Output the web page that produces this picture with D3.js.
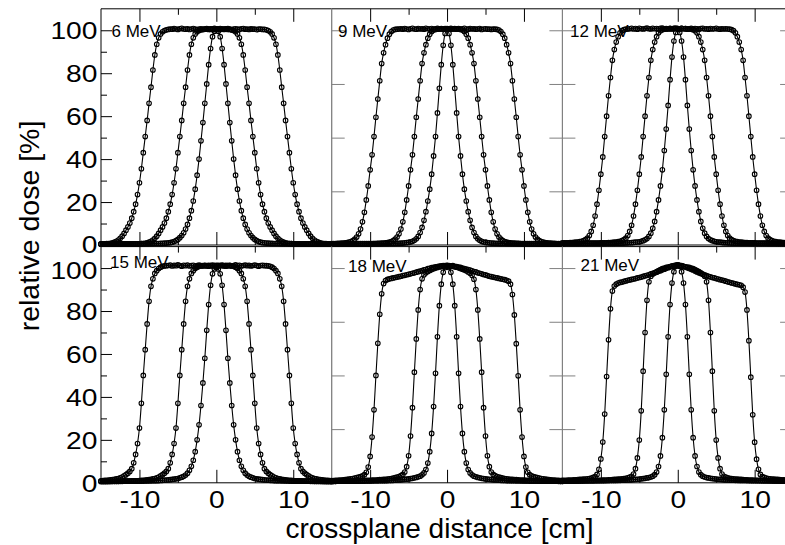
<!DOCTYPE html>
<html><head><meta charset="utf-8">
<script src="https://cdn.jsdelivr.net/npm/d3@7"></script>
<style>
body{margin:0;background:#fff}
svg{display:block}
text{font-family:"Liberation Sans",Arial,Helvetica,sans-serif;fill:#000}
</style>
</head><body>
<svg id="c" width="785" height="545"></svg>
<script>
// ---------- DATA ----------
const xGrid = [-15,-14.75,-14.5,-14.25,-14,-13.75,-13.5,-13.25,-13,-12.75,-12.5,-12.25,-12,-11.75,-11.5,-11.25,-11,-10.75,-10.5,-10.25,-10,-9.75,-9.5,-9.25,-9,-8.75,-8.5,-8.25,-8,-7.75,-7.5,-7.25,-7,-6.75,-6.5,-6.25,-6,-5.75,-5.5,-5.25,-5,-4.75,-4.5,-4.25,-4,-3.75,-3.5,-3.25,-3,-2.75,-2.5,-2.25,-2,-1.75,-1.5,-1.25,-1,-0.75,-0.5,-0.25,0,0.25,0.5,0.75,1,1.25,1.5,1.75,2,2.25,2.5,2.75,3,3.25,3.5,3.75,4,4.25,4.5,4.75,5,5.25,5.5,5.75,6,6.25,6.5,6.75,7,7.25,7.5,7.75,8,8.25,8.5,8.75,9,9.25,9.5,9.75,10,10.25,10.5,10.75,11,11.25,11.5,11.75,12,12.25,12.5,12.75,13,13.25,13.5,13.75,14,14.25,14.5,14.75,15];

const energyLabels = ["6 MeV","9 MeV","12 MeV","15 MeV","18 MeV","21 MeV"];
const yTicksLabelled = [0,20,40,60,80,100];
const yTicksMinor = [10,30,50,70,90];
const yTicksInner = [0,25,50,75,100];
const xTicksMajor = [-10,0,10];
const xTicksMinor = [-5,5];

const e6_large = [0.5,0.5,0.55,0.6,0.7,0.8,1.0,1.3,1.7,2.3,3.1,4.1,5.4,6.9,8.4,10.2,12.5,15.5,19,23.5,29,35.5,43,50.5,58,66,73.5,81.5,88.5,93.5,96.5,98.3,99.3,99.9,100.2,100.4,
100.6,100.5,100.8,100.6,100.4,100.7,100.9,100.6,100.5,100.7,100.4,100.6,100.8,100.5,100.3,100.6,100.7,100.4,100.5,100.8,100.6,100.4,100.7,100.9,100.6,
100.5,100.8,100.6,100.4,100.6,100.8,100.5,100.3,100.6,100.7,100.5,100.4,100.7,100.8,100.5,100.6,100.4,100.7,100.5,100.6,100.3,100.5,100.6,100.4,
100.4,100.2,99.9,99.3,98.3,96.5,93.5,88.5,81.5,73.5,66,58,50.5,43,35.5,29,23.5,19,15.5,12.5,10.2,8.4,6.9,5.4,4.1,3.1,2.3,1.7,1.3,1.0,0.8,0.7,0.6,0.55,0.5,0.5];
const e6_medium = [0.4,0.4,0.4,0.4,0.4,0.4,0.45,0.45,0.45,0.45,0.45,0.5,0.5,0.5,0.5,0.5,0.5,0.5,0.5,
0.5,0.55,0.6,0.7,0.8,1.0,1.3,1.7,2.3,3.1,4.1,5.4,6.9,8.4,10.2,12.5,15.5,19,23.5,29,35.5,43,50.5,58,66,73.5,81.5,88.5,93.5,96.5,98.3,99.3,99.9,100.2,100.4,
100.5,100.6,100.4,100.7,100.5,100.6,100.7,100.5,100.4,100.6,100.5,100.7,100.4,
100.4,100.2,99.9,99.3,98.3,96.5,93.5,88.5,81.5,73.5,66,58,50.5,43,35.5,29,23.5,19,15.5,12.5,10.2,8.4,6.9,5.4,4.1,3.1,2.3,1.7,1.3,1.0,0.8,0.7,0.6,0.55,0.5,
0.5,0.5,0.5,0.5,0.5,0.5,0.5,0.5,0.45,0.45,0.45,0.45,0.45,0.4,0.4,0.4,0.4,0.4,0.4];
const e6_small = [0.45,0.45,0.45,0.45,0.5,0.5,0.5,0.5,0.5,0.5,0.5,0.5,0.5,0.5,0.55,0.55,0.55,0.55,0.55,0.55,
0.55,0.6,0.6,0.6,0.6,0.6,0.65,0.65,0.7,0.7,0.7,0.75,
0.8,0.85,0.9,1.0,1.1,1.3,1.6,2.0,2.6,3.4,4.4,5.7,7.4,9.6,12.5,16,20.5,26,32.5,40,48.5,57,66,75,84,91.5,97,99.5,
100.3,
99.5,97,91.5,84,75,66,57,48.5,40,32.5,26,20.5,16,12.5,9.6,7.4,5.7,4.4,3.4,2.6,2.0,1.6,1.3,1.1,1.0,0.9,0.85,0.8,
0.75,0.7,0.7,0.7,0.65,0.65,0.6,0.6,0.6,0.6,0.6,0.55,
0.55,0.55,0.55,0.55,0.55,0.55,0.5,0.5,0.5,0.5,0.5,0.5,0.5,0.5,0.5,0.5,0.45,0.45,0.45,0.45];

const e9_large = [0.65,0.7,0.7,0.75,0.8,0.85,0.9,1.0,1.1,1.3,1.6,2.0,2.7,3.7,5.2,7.4,10.8,15.2,21,27.5,35,42,50.5,59.5,68,76.5,84.5,89.5,93.3,96.3,98.2,99.4,100.1,100.4,100.5,
100.6,100.7,100.5,100.8,100.6,100.4,100.7,100.9,100.6,100.5,100.8,100.6,100.7,100.5,100.9,100.7,100.6,100.8,100.5,100.7,100.9,100.6,100.8,100.7,100.5,
100.8,100.6,100.9,100.7,100.6,100.5,100.8,100.6,100.7,100.9,100.6,100.5,100.8,100.6,100.7,100.5,100.6,100.8,100.4,100.6,100.7,100.5,100.6,100.4,100.5,
100.5,100.4,100.1,99.4,98.2,96.3,93.3,89.5,84.5,76.5,68,59.5,50.5,42,35,27.5,21,15.2,10.8,7.4,5.2,3.7,2.7,2.0,1.6,1.3,1.1,1.0,0.9,0.85,0.8,0.75,0.7,0.7,0.65,0.6];
const e9_medium = [0.45,0.45,0.45,0.5,0.5,0.5,0.5,0.5,0.5,0.55,0.55,0.55,0.55,0.55,0.6,0.6,0.6,0.6,0.6,0.6,
0.6,0.65,0.7,0.7,0.75,0.8,0.85,0.9,1.0,1.1,1.3,1.6,2.0,2.7,3.7,5.2,7.4,10.8,15.2,21,27.5,35,42,50.5,59.5,68,76.5,84.5,89.5,93.3,96.3,98.2,99.4,100.1,100.4,100.5,
100.6,100.7,100.5,100.8,100.6,100.7,100.5,100.6,100.8,100.6,
100.5,100.4,100.1,99.4,98.2,96.3,93.3,89.5,84.5,76.5,68,59.5,50.5,42,35,27.5,21,15.2,10.8,7.4,5.2,3.7,2.7,2.0,1.6,1.3,1.1,1.0,0.9,0.85,0.8,0.75,0.7,0.7,0.65,0.6,
0.6,0.6,0.6,0.6,0.6,0.55,0.55,0.55,0.55,0.55,0.5,0.5,0.5,0.5,0.5,0.5,0.45,0.45,0.45];
const e9_small = [0.45,0.45,0.45,0.45,0.5,0.5,0.5,0.5,0.5,0.5,0.5,0.5,0.5,0.5,0.55,0.55,0.55,0.55,0.55,0.55,
0.55,0.55,0.6,0.6,0.6,0.6,0.6,0.65,0.65,0.65,0.7,0.7,
0.7,0.75,0.8,0.8,0.85,0.9,1.0,1.1,1.2,1.4,1.7,2.2,2.9,4.0,5.8,8.2,11.5,15.5,20.5,26,33,41.5,50.5,61.5,73,84,93,98.5,
100.5,
98.5,93,84,73,61.5,50.5,41.5,33,26,20.5,15.5,11.5,8.2,5.8,4.0,2.9,2.2,1.7,1.4,1.2,1.1,1.0,0.9,0.85,0.8,0.8,0.75,0.7,
0.7,0.7,0.65,0.65,0.65,0.6,0.6,0.6,0.6,0.6,0.55,0.55,
0.55,0.55,0.55,0.55,0.55,0.55,0.5,0.5,0.5,0.5,0.5,0.5,0.5,0.5,0.5,0.5,0.45,0.45,0.45,0.45];

const e12_large = [0.95,1.0,1.0,1.05,1.1,1.15,1.2,1.3,1.4,1.55,1.7,2.0,2.5,3.2,4.4,6.3,9.2,13.5,19,25.5,33,41,50.5,60,69.5,78,86,91,94.5,97,98.8,99.8,100.3,100.5,100.6,
100.7,100.9,100.6,100.8,100.5,100.9,100.7,100.6,100.8,101.0,100.7,100.6,100.9,100.7,100.8,100.6,100.9,101.0,100.7,100.8,100.6,100.9,100.7,100.8,101.0,
100.8,100.6,100.9,100.7,100.8,100.5,100.7,100.9,100.6,100.8,100.7,100.5,100.8,100.9,100.6,100.7,100.5,100.8,100.6,100.7,100.9,100.6,100.5,100.7,100.6,100.7,
100.6,100.5,100.3,99.8,98.8,97,94.5,91,86,78,69.5,60,50.5,41,33,25.5,19,13.5,9.2,6.3,4.4,3.2,2.5,2.0,1.7,1.55,1.4,1.3,1.2,1.15,1.1,1.05,1.0,1.0,0.95];
const e12_medium = [0.7,0.7,0.7,0.7,0.7,0.75,0.75,0.75,0.75,0.8,0.8,0.8,0.8,0.8,0.85,0.85,0.85,0.85,0.9,
0.9,0.95,1.0,1.0,1.05,1.1,1.15,1.2,1.3,1.4,1.55,1.7,2.0,2.5,3.2,4.4,6.3,9.2,13.5,19,25.5,33,41,50.5,60,69.5,78,86,91,94.5,97,98.8,99.8,100.3,100.5,100.6,
100.7,100.8,100.6,100.9,100.7,100.8,100.6,100.9,100.7,100.8,100.6,
100.6,100.5,100.3,99.8,98.8,97,94.5,91,86,78,69.5,60,50.5,41,33,25.5,19,13.5,9.2,6.3,4.4,3.2,2.5,2.0,1.7,1.55,1.4,1.3,1.2,1.15,1.1,1.05,1.0,1.0,0.95,0.9,
0.9,0.85,0.85,0.85,0.85,0.8,0.8,0.8,0.8,0.8,0.75,0.75,0.75,0.75,0.7,0.7,0.7,0.7,0.7];
const e12_small = [0.7,0.7,0.7,0.7,0.7,0.7,0.7,0.7,0.7,0.7,0.7,0.7,0.75,0.75,0.75,0.75,0.75,0.75,0.75,0.75,
0.75,0.75,0.75,0.8,0.8,0.8,0.8,0.8,0.85,0.85,0.85,0.9,
0.9,0.95,1.0,1.05,1.1,1.2,1.3,1.4,1.5,1.7,2.0,2.4,3.0,4.0,5.5,7.8,11,15.5,21,27.5,35,44,54,65,77,87.5,95,99,
100.5,
99,95,87.5,77,65,54,44,35,27.5,21,15.5,11,7.8,5.5,4.0,3.0,2.4,2.0,1.7,1.5,1.4,1.3,1.2,1.1,1.05,1.0,0.95,0.9,
0.9,0.85,0.85,0.85,0.8,0.8,0.8,0.8,0.8,0.75,0.75,0.75,
0.75,0.75,0.75,0.75,0.75,0.75,0.75,0.75,0.7,0.7,0.7,0.7,0.7,0.7,0.7,0.7,0.7,0.7,0.7,0.7];

const e15_large = [0.95,1.0,1.1,1.15,1.25,1.35,1.5,1.65,1.8,2.0,2.3,2.7,3.2,3.8,4.5,5.3,6.6,9.3,13.2,18.3,25.5,37,50,62,74,84.5,91.5,95,97.5,98.8,99.8,100.4,100.8,101.0,101.1,
101.2,101.4,101.0,101.3,101.1,101.5,101.2,100.9,101.3,101.1,101.4,101.0,101.2,101.3,100.9,101.1,101.4,101.2,101.0,101.3,101.1,100.9,101.2,101.0,101.1,
101.3,101.0,101.2,101.4,101.1,100.9,101.2,101.3,101.0,101.2,101.5,101.1,101.3,101.0,101.2,101.4,101.1,101.3,101.0,101.2,101.4,101.1,100.9,101.2,101.3,101.1,
101.1,101.0,100.8,100.4,99.8,98.8,97.5,95,91.5,84.5,74,62,50,37,25.5,18.3,13.2,9.3,6.6,5.3,4.5,3.8,3.2,2.7,2.3,2.0,1.8,1.65,1.5,1.35,1.25,1.15,1.1,1.0,0.95];
const e15_medium = [0.6,0.6,0.6,0.65,0.65,0.65,0.7,0.7,0.7,0.7,0.75,0.75,0.75,0.8,0.8,0.8,0.85,0.85,0.9,
0.95,1.0,1.1,1.15,1.25,1.35,1.5,1.65,1.8,2.0,2.3,2.7,3.2,3.8,4.5,5.3,6.6,9.3,13.2,18.3,25.5,37,50,62,74,84.5,91.5,95,97.5,98.8,99.8,100.4,100.8,101.0,101.1,
101.2,101.0,101.3,101.1,101.4,101.2,101.0,101.3,101.1,101.2,101.0,101.3,101.1,
101.1,101.0,100.8,100.4,99.8,98.8,97.5,95,91.5,84.5,74,62,50,37,25.5,18.3,13.2,9.3,6.6,5.3,4.5,3.8,3.2,2.7,2.3,2.0,1.8,1.65,1.5,1.35,1.25,1.15,1.1,1.0,0.95,
0.9,0.85,0.85,0.8,0.8,0.8,0.75,0.75,0.75,0.7,0.7,0.7,0.7,0.65,0.65,0.65,0.6,0.6,0.6];
const e15_small = [0.65,0.65,0.65,0.65,0.7,0.7,0.7,0.7,0.7,0.7,0.7,0.7,0.75,0.75,0.75,0.75,0.75,0.75,0.75,0.8,
0.8,0.8,0.8,0.85,0.85,0.9,0.9,0.95,0.95,1.0,1.05,1.1,
1.15,1.2,1.3,1.35,1.45,1.55,1.7,1.85,2.0,2.3,2.6,3.0,3.6,4.5,5.8,7.7,10.5,14.5,20,27,36,46.5,58,71,83,92,97.3,99.6,
100.3,
99.6,97.3,92,83,71,58,46.5,36,27,20,14.5,10.5,7.7,5.8,4.5,3.6,3.0,2.6,2.3,2.0,1.85,1.7,1.55,1.45,1.35,1.3,1.2,1.15,
1.1,1.05,1.0,0.95,0.95,0.9,0.9,0.85,0.85,0.8,0.8,0.8,
0.8,0.75,0.75,0.75,0.75,0.75,0.75,0.75,0.7,0.7,0.7,0.7,0.7,0.7,0.7,0.7,0.65,0.65,0.65,0.65];

const e18_large = [1.0,1.05,1.1,1.15,1.2,1.3,1.4,1.5,1.6,1.7,1.85,2.0,2.2,2.4,2.6,2.85,3.2,3.8,4.9,7.3,12.3,21.3,34,50,65,78.5,88,92.8,94.2,94.7,95.0,95.2,95.4,95.6,95.8,96.0,
96.2,96.5,96.6,96.9,97.1,97.3,97.6,97.8,98.1,98.3,98.6,98.8,99.2,99.3,99.7,99.9,100.2,100.3,100.6,100.7,100.9,101.0,101.2,101.1,101.3,
101.2,101.0,101.1,100.8,100.7,100.4,100.3,100.0,99.8,99.5,99.3,99.0,98.7,98.4,98.2,97.8,97.6,97.3,97.0,96.8,96.5,96.2,96.0,95.8,
95.6,95.4,95.2,95.0,94.8,94.6,94.3,93.9,92.5,87.7,78.2,64.8,49.8,34,21.3,12.3,7.3,4.9,3.8,3.2,2.85,2.6,2.4,2.2,2.0,1.85,1.7,1.6,1.5,1.4,1.3,1.2,1.15,1.1,1.05,1.0];
const e18_medium = [0.7,0.7,0.7,0.72,0.75,0.77,0.8,0.82,0.85,0.87,0.9,0.92,0.95,0.97,1.0,1.02,1.05,1.08,1.1,1.12,
1.15,1.2,1.25,1.3,1.35,1.45,1.5,1.55,1.65,1.75,1.85,2.0,2.2,2.4,2.6,2.9,3.3,3.9,5.0,7.5,12.6,21.8,35,51.5,67,80.5,90,95,96.9,97.8,98.4,98.9,99.3,99.7,100.0,100.3,
100.5,100.7,100.8,101.0,101.1,101.0,100.9,100.8,100.6,100.4,
100.1,99.8,99.5,99.1,98.7,98.2,97.6,96.7,94.8,90,80.5,67,51.5,35,21.8,12.6,7.5,5.0,3.9,3.3,2.9,2.6,2.4,2.2,2.0,1.85,1.75,1.65,1.55,1.5,1.45,1.35,1.3,1.25,1.2,1.15,
1.12,1.1,1.08,1.05,1.02,1.0,0.97,0.95,0.92,0.9,0.87,0.85,0.82,0.8,0.77,0.75,0.72,0.7,0.7];
const e18_small = [0.7,0.7,0.7,0.72,0.72,0.74,0.74,0.75,0.75,0.76,0.77,0.78,0.78,0.79,0.8,0.8,0.81,0.82,0.83,0.84,
0.85,0.85,0.9,0.9,0.9,0.95,0.95,1.0,1.0,1.05,1.1,1.1,
1.15,1.2,1.3,1.35,1.4,1.5,1.6,1.7,1.8,1.95,2.1,2.3,2.5,2.8,3.1,3.7,4.6,6.2,9.2,14.5,23,35.5,51,68,82.5,92.5,98,100.3,
101,
100.3,98,92.5,82.5,68,51,35.5,23,14.5,9.2,6.2,4.6,3.7,3.1,2.8,2.5,2.3,2.1,1.95,1.8,1.7,1.6,1.5,1.4,1.35,1.3,1.2,1.15,
1.1,1.1,1.05,1.0,1.0,0.95,0.95,0.9,0.9,0.9,0.85,0.85,
0.84,0.83,0.82,0.81,0.8,0.8,0.79,0.78,0.78,0.77,0.76,0.75,0.75,0.74,0.74,0.72,0.72,0.7,0.7,0.7];

const e21_large = [1.1,1.13,1.16,1.2,1.25,1.3,1.34,1.39,1.48,1.57,1.62,1.67,1.76,1.85,2.0,2.2,2.5,2.9,3.9,6.3,11.1,19,32,49.5,66.6,81,89.3,91.6,92.5,
93.0,93.3,93.5,93.8,94.0,94.3,94.5,94.7,94.9,95.1,95.4,95.6,95.8,96.1,96.4,96.6,96.9,97.3,97.5,97.8,98.1,98.5,98.8,99.2,99.5,99.9,100.2,100.6,100.9,101.2,101.4,
101.5,
101.3,101.1,100.8,100.5,100.1,99.8,99.4,99.1,98.6,98.2,97.8,97.5,97.1,96.8,96.5,96.2,95.9,95.6,95.4,95.1,94.9,94.6,94.4,94.2,93.9,93.6,93.4,93.1,92.9,
92.6,92.4,92.2,92.0,91.1,88.8,80.5,66.2,49.2,31.7,18.9,11.0,6.3,3.9,2.9,2.5,2.2,2.0,1.85,1.76,1.67,1.62,1.57,1.48,1.39,1.34,1.3,1.25,1.2,1.16,1.13];
const e21_medium = [0.8,0.8,0.82,0.84,0.86,0.88,0.9,0.92,0.94,0.96,0.98,1.0,1.02,1.04,1.06,1.08,1.1,1.12,1.14,
1.16,1.18,1.21,1.26,1.31,1.36,1.41,1.46,1.55,1.65,1.7,1.75,1.84,1.94,2.13,2.33,2.6,3.0,4.1,6.6,11.6,19.9,33.5,52,70,85,93.6,96.2,97.2,97.8,98.3,98.8,99.3,99.7,100.0,100.3,
100.5,100.7,100.9,101.0,101.1,101.2,101.1,101.0,100.8,100.6,100.4,
100.3,100.0,99.7,99.3,98.8,98.3,97.8,97.2,96.2,93.6,85,70,52,33.5,19.9,11.6,6.6,4.1,3.0,2.6,2.33,2.13,1.94,1.84,1.75,1.7,1.65,1.55,1.46,1.41,1.36,1.31,1.26,1.21,1.18,1.16,
1.14,1.12,1.1,1.08,1.06,1.04,1.02,1.0,0.98,0.96,0.94,0.92,0.9,0.88,0.86,0.84,0.82,0.8,0.8];
const e21_small = [0.8,0.8,0.8,0.82,0.82,0.84,0.84,0.86,0.86,0.88,0.88,0.9,0.9,0.92,0.92,0.94,0.94,0.96,0.96,0.98,
0.98,1.0,1.0,1.02,1.04,1.06,1.08,1.1,1.12,1.14,1.16,1.18,
1.2,1.25,1.3,1.35,1.4,1.5,1.55,1.65,1.75,1.85,1.95,2.1,2.25,2.45,2.7,3.1,3.8,5.0,7.6,12.5,21,34,50.5,68,83,93,98.3,100.8,
101.5,
100.8,98.3,93,83,68,50.5,34,21,12.5,7.6,5.0,3.8,3.1,2.7,2.45,2.25,2.1,1.95,1.85,1.75,1.65,1.55,1.5,1.4,1.35,1.3,1.25,1.2,
1.18,1.16,1.14,1.12,1.1,1.08,1.06,1.04,1.02,1.0,1.0,0.98,
0.98,0.96,0.96,0.94,0.94,0.92,0.92,0.9,0.9,0.88,0.88,0.86,0.86,0.84,0.84,0.82,0.82,0.8,0.8,0.8];

const profileSets = [
  [e6_large, e6_medium, e6_small],
  [e9_large, e9_medium, e9_small],
  [e12_large, e12_medium, e12_small],
  [e15_large, e15_medium, e15_small],
  [e18_large, e18_medium, e18_small],
  [e21_large, e21_medium, e21_small]
];

// ---------- LAYOUT ----------
const colX = [101, 331.7, 562.4], colW = 230.7;
const rowY = [8.8, 246.6], rowH = 236.2;
const labelPos = [[111.5,36.5],[338,36.5],[570,36.5],[110,268],[348,271.5],[580.5,271]];
const FONT = '"Liberation Sans",Arial,Helvetica,sans-serif';
const TICK_FS = 23.5, TICK_STRETCH = 1.2;

const svg = d3.select('#c');
svg.append('rect').attr('width',785).attr('height',545).attr('fill','#fff');

profileSets.forEach((set, pi) => {
  const col = pi % 3, row = Math.floor(pi / 3);
  const x0 = colX[col], x1 = colX[col] + colW;
  const y0 = rowY[row], y1 = rowY[row] + rowH;
  const x = d3.scaleLinear().domain([-15, 15]).range([x0, x1]);
  const y = d3.scaleLinear().domain([0, 110]).range([y1, y0]);
  const g = svg.append('g');

  function styleAxis(sel, color, fontSize) {
    sel.select('.domain').remove();
    sel.selectAll('line').attr('stroke', color).attr('stroke-width', 1);
    sel.selectAll('text').attr('font-family', FONT).attr('font-size', fontSize).attr('fill', '#000')
      .attr('transform', fontSize ? `scale(${TICK_STRETCH},1)` : null);
  }

  // top axis (ticks pointing inward)
  g.append('g').attr('transform', `translate(0,${y0})`)
    .call(d3.axisTop(x).tickValues(xTicksMajor).tickSize(-13).tickFormat(''))
    .call(s => styleAxis(s, '#000', 0));
  g.append('g').attr('transform', `translate(0,${y0})`)
    .call(d3.axisTop(x).tickValues(xTicksMinor).tickSize(-6).tickFormat(''))
    .call(s => styleAxis(s, '#000', 0));
  // bottom axis
  const bottomLabels = row === 1;
  g.append('g').attr('transform', `translate(0,${y1})`)
    .call(d3.axisBottom(x).tickValues(xTicksMajor).tickSize(-13).tickPadding(9)
      .tickFormat(bottomLabels ? (d => String(d)) : ''))
    .call(s => styleAxis(s, '#000', bottomLabels ? TICK_FS : 0));
  g.append('g').attr('transform', `translate(0,${y1})`)
    .call(d3.axisBottom(x).tickValues(xTicksMinor).tickSize(-6).tickFormat(''))
    .call(s => styleAxis(s, '#000', 0));

  if (col === 0) {
    const la = g.append('g').attr('transform', `translate(${x0},0)`)
      .call(d3.axisLeft(y).tickValues(yTicksLabelled).tickSize(-11).tickPadding(3))
      .call(s => styleAxis(s, '#000', TICK_FS));
    la.selectAll('text').attr('dy', d => (row === 1 && d === 100) ? '0.45em' : (row === 0 && d === 0 ? '0.3em' : '0.36em'));
    g.append('g').attr('transform', `translate(${x0},0)`)
      .call(d3.axisLeft(y).tickValues(yTicksMinor).tickSize(-6).tickFormat(''))
      .call(s => styleAxis(s, '#000', 0));
  } else {
    g.append('g').attr('transform', `translate(${x0},0)`)
      .call(d3.axisLeft(y).tickValues(yTicksInner).tickSize(-13).tickFormat(''))
      .call(s => styleAxis(s, '#808080', 0));
    g.append('g').attr('transform', `translate(${x1},0)`)
      .call(d3.axisRight(y).tickValues(yTicksInner).tickSize(-13).tickFormat(''))
      .call(s => styleAxis(s, '#808080', 0));
  }

  // frame
  g.append('line').attr('x1', x0).attr('x2', x1).attr('y1', y0).attr('y2', y0).attr('stroke', '#000');
  g.append('line').attr('x1', x0).attr('x2', x1).attr('y1', y1).attr('y2', y1).attr('stroke', '#000');
  g.append('line').attr('x1', x0).attr('x2', x0).attr('y1', y0).attr('y2', y1).attr('stroke', col === 0 ? '#000' : '#808080');
  g.append('line').attr('x1', x1).attr('x2', x1).attr('y1', y0).attr('y2', y1).attr('stroke', '#808080');

  // energy label
  g.append('text').attr('x', labelPos[pi][0]).attr('y', labelPos[pi][1])
    .attr('font-family', FONT).attr('font-size', 17).text(energyLabels[pi]);

  // data: calculated line + measured points
  const line = d3.line().x(d => x(d[0])).y(d => y(d[1])).curve(d3.curveMonotoneX);
  set.forEach(vals => {
    const n = Math.min(vals.length, xGrid.length);
    const pts = d3.range(n).map(i => [xGrid[i], vals[i]]);
    g.append('path').datum(pts).attr('d', line)
      .attr('fill', 'none').attr('stroke', '#000').attr('stroke-width', 1.1);
    g.append('g').selectAll('circle').data(pts).join('circle')
      .attr('cx', d => x(d[0])).attr('cy', d => y(d[1])).attr('r', 2.3)
      .attr('fill', 'none').attr('stroke', '#000').attr('stroke-width', 1.1);
  });
});

// axis titles
svg.append('text').attr('x', 439.5).attr('y', 538).attr('text-anchor', 'middle')
  .attr('font-family', FONT).attr('font-size', 28).text('crossplane distance [cm]');
svg.append('text').attr('transform', 'translate(39,226) rotate(-90)').attr('text-anchor', 'middle')
  .attr('font-family', FONT).attr('font-size', 28.5).text('relative dose [%]');
</script>
</body></html>
